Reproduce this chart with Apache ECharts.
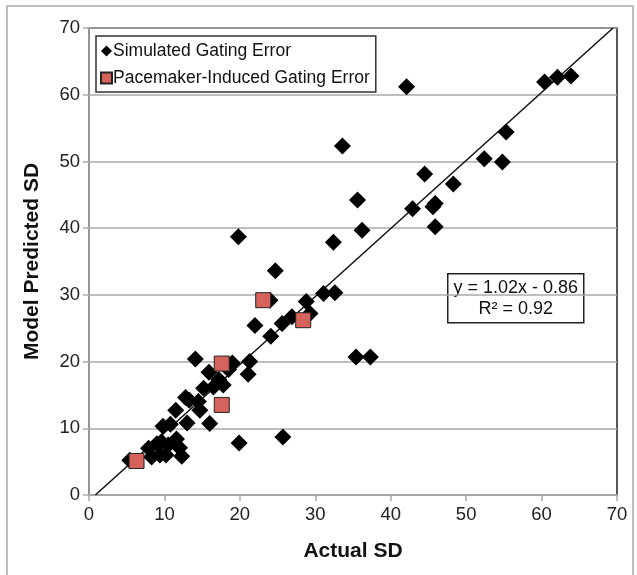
<!DOCTYPE html>
<html>
<head>
<meta charset="utf-8">
<script src="https://cdn.jsdelivr.net/npm/echarts@6/dist/echarts.min.js"></script>
<style>
  html, body { margin: 0; padding: 0; background: #fff; }
  #main { width: 637px; height: 575px; }
</style>
</head>
<body>
<div id="main"></div>
<script>
// Actual SD vs model predicted SD
const simulated = [
  [42.1, 61.2], [60.4, 61.9], [62.1, 62.6], [63.9, 62.8], [33.6, 52.3], [55.3, 54.4],
  [52.4, 50.4], [54.8, 49.9], [44.5, 48.1], [48.3, 46.6], [35.6, 44.2], [45.9, 43.7],
  [45.6, 43.2], [42.9, 42.9], [36.2, 39.7], [45.9, 40.2], [32.4, 37.9], [19.8, 38.7],
  [24.7, 33.6], [31.1, 30.2], [32.6, 30.3], [28.8, 29.0], [29.3, 27.2], [26.9, 26.7],
  [25.6, 25.7], [24.0, 29.2], [22.0, 25.4], [24.1, 23.8], [35.4, 20.7], [37.3, 20.7],
  [14.1, 20.4], [21.3, 20.0], [19.0, 19.8], [21.1, 18.1], [15.9, 18.4], [18.5, 18.8],
  [17.2, 17.3], [16.5, 16.2], [17.8, 16.5], [15.2, 16.0], [13.3, 14.2], [14.5, 14.0],
  [12.8, 14.6], [11.5, 12.7], [14.7, 12.7], [13.0, 10.8], [16.0, 10.7], [9.8, 10.3],
  [10.8, 10.6], [19.9, 7.8], [25.7, 8.7], [11.6, 8.4], [12.0, 7.1], [12.3, 5.8],
  [9.0, 7.7], [7.9, 7.0], [9.4, 6.0], [10.2, 6.0], [8.3, 5.7], [5.4, 5.2],
  [10.5, 7.5], [9.6, 8.0]
];
const pacemaker = [[6.3, 5.1], [17.6, 19.7], [17.6, 13.5], [23.1, 29.2], [28.4, 26.2]];

// linear fit y = 1.02x - 0.86
const slope = 1.02;
const intercept = -0.86;
const fitX = [-intercept / slope, (70 - intercept) / slope];
const fitLine = fitX.map(x => [x, slope * x + intercept]);

const axisTicks = [0, 10, 20, 30, 40, 50, 60, 70];

const font = '"Liberation Sans", Arial, sans-serif';
const chart = echarts.init(document.getElementById('main'));

chart.setOption({
  animation: false,
  backgroundColor: '#fff',
  grid: {
    left: 89, right: 20, top: 28, bottom: 80,
    show: true, borderColor: '#222', borderWidth: 1.5, backgroundColor: 'transparent'
  },
  legend: {
    orient: 'vertical',
    left: 96, top: 36,
    padding: [6, 6, 5, 4],
    itemGap: 9,
    itemWidth: 11, itemHeight: 11,
    borderColor: '#333', borderWidth: 1.5,
    textStyle: { fontFamily: font, fontSize: 17.5, color: '#111', padding: [0, 0, 0, -4] },
    data: [
      { name: 'Simulated Gating Error', icon: 'diamond' },
      { name: 'Pacemaker-Induced Gating Error', icon: 'rect' }
    ]
  },
  xAxis: {
    type: 'value', min: 0, max: 70, interval: 10,
    name: 'Actual SD', nameLocation: 'middle', nameGap: 46,
    nameTextStyle: { fontFamily: font, fontSize: 21, fontWeight: 'bold', color: '#111' },
    axisLine: { onZero: false, lineStyle: { color: '#aaa', width: 1.5 } },
    axisTick: { show: true, length: 6, lineStyle: { color: '#aaa', width: 1.5 } },
    axisLabel: { fontFamily: font, fontSize: 18.5, color: '#222', margin: 10,
      formatter: v => axisTicks.includes(v) ? String(v) : '' },
    splitLine: { show: false }
  },
  yAxis: {
    type: 'value', min: 0, max: 70, interval: 10,
    name: 'Model Predicted SD', nameLocation: 'middle', nameGap: 46,
    nameTextStyle: { fontFamily: font, fontSize: 21, fontWeight: 'bold', color: '#111' },
    axisLine: { onZero: false, lineStyle: { color: '#aaa', width: 1.5 } },
    axisTick: { show: true, length: 6, lineStyle: { color: '#aaa', width: 1.5 } },
    axisLabel: { fontFamily: font, fontSize: 18.5, color: '#222', margin: 9,
      formatter: v => axisTicks.includes(v) ? String(v) : '' },
    splitLine: { show: true, lineStyle: { color: '#aaa', width: 1.5 } }
  },
  series: [
    {
      name: 'fit', type: 'line', data: fitLine, showSymbol: false, symbol: 'none',
      lineStyle: { color: '#111', width: 1.5 }, z: 1, silent: true
    },
    {
      name: 'Simulated Gating Error', type: 'scatter', data: simulated,
      symbol: 'diamond', symbolSize: [17, 17],
      itemStyle: { color: '#000', opacity: 1 }, z: 2
    },
    {
      name: 'Pacemaker-Induced Gating Error', type: 'scatter', data: pacemaker,
      symbol: 'rect', symbolSize: 15,
      itemStyle: { color: '#d5635b', borderColor: '#222', borderWidth: 1, opacity: 1 }, z: 3
    }
  ],
  graphic: [
    {
      type: 'rect', silent: true, z: -1,
      shape: { x: 7, y: 6, width: 626, height: 600 },
      style: { fill: 'none', stroke: '#aaa', lineWidth: 1.5 }
    },
    {
      type: 'group', left: 447, top: 273, z: 10,
      children: [
        { type: 'rect', shape: { x: 0, y: 0, width: 136, height: 49 },
          style: { fill: '#fff', stroke: '#222', lineWidth: 1.5 } },
        { type: 'text', x: 68, y: 5,
          style: { text: 'y = 1.02x - 0.86', font: '18px ' + font, fill: '#111', align: 'center' } },
        { type: 'text', x: 68, y: 26,
          style: { text: 'R² = 0.92', font: '18px ' + font, fill: '#111', align: 'center' } }
      ]
    }
  ]
});
</script>
</body>
</html>
